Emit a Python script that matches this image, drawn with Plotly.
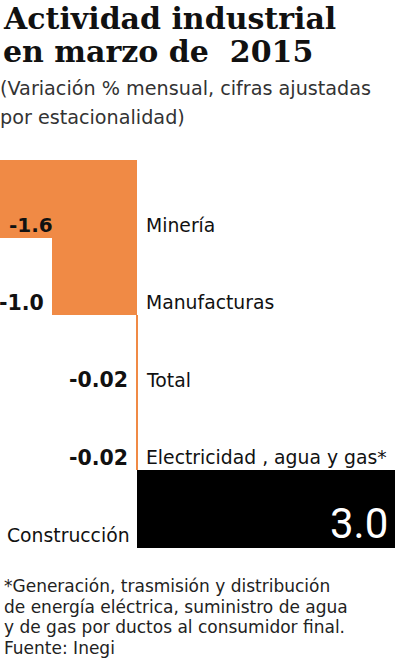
import plotly.graph_objects as go

categories = ["Minería", "Manufacturas", "Total", "Electricidad , agua y gas*", "Construcción"]
values = [-1.6, -1.0, -0.02, -0.02, 3.0]
value_labels = ["-1.6", "-1.0", "-0.02", "-0.02", "3.0"]

title_lines = ["Actividad industrial", "en marzo de  2015"]
subtitle_lines = ["(Variación % mensual, cifras ajustadas", "por estacionalidad)"]
footnote_lines = [
    "*Generación, trasmisión y distribución",
    "de energía eléctrica, suministro de agua",
    "y de gas por ductos al consumidor final.",
    "Fuente: Inegi",
]

ORANGE = "#F08A45"
BLACK = "#000000"
W, H = 395, 666
M_TOP, M_BOT = 160, 118
PLOT_H = H - M_TOP - M_BOT

def py(ypx):
    return (H - M_BOT - ypx) / PLOT_H

xmin, xmax = -1.6, 3.0
px_per_unit = W / (xmax - xmin)

idx = list(range(len(categories)))
colors = [ORANGE if v < 0 else BLACK for v in values]

fig = go.Figure()
fig.add_trace(go.Bar(
    x=values, y=idx, orientation="h", width=1,
    marker=dict(color=colors, line=dict(width=0)),
    hoverinfo="skip", showlegend=False,
))

SANS = "DejaVu Sans, sans-serif"
ann = []
for i, (cat, v, lab) in enumerate(zip(categories, values, value_labels)):
    ly = i + 0.34
    if v < 0:
        ann.append(dict(x=0, y=ly, xref="x", yref="y", text=cat, showarrow=False,
                        xanchor="left", yanchor="middle", xshift=7,
                        font=dict(family=SANS, size=18.8, color="#111")))
        bar_end_px = (v - xmin) * px_per_unit
        if bar_end_px < 45:
            ann.append(dict(x=v, y=ly, xref="x", yref="y", text="<b>%s</b>" % lab, showarrow=False,
                            xanchor="left", yanchor="middle", xshift=7,
                            font=dict(family=SANS, size=20, color="#111")))
        else:
            ann.append(dict(x=v, y=ly, xref="x", yref="y", text="<b>%s</b>" % lab, showarrow=False,
                            xanchor="right", yanchor="middle", xshift=-6,
                            font=dict(family=SANS, size=20.5, color="#111")))
    else:
        ann.append(dict(x=0, y=ly, xref="x", yref="y", text=cat, showarrow=False,
                        xanchor="right", yanchor="middle", xshift=-5,
                        font=dict(family=SANS, size=18.8, color="#111")))
        ann.append(dict(x=v, y=i + 0.185, xref="x", yref="y", text=lab, showarrow=False,
                        xanchor="right", yanchor="middle", xshift=-5,
                        font=dict(family="Roboto, sans-serif", size=42, color="#ffffff")))

for k, t in enumerate(title_lines):
    ann.append(dict(x=0, y=py(18 + 33 * k), xref="paper", yref="paper", text="<b>%s</b>" % t,
                    showarrow=False, xanchor="left", yanchor="middle", xshift=1,
                    font=dict(family="DejaVu Serif, serif", size=30, color="#111")))
for k, t in enumerate(subtitle_lines):
    ann.append(dict(x=0, y=py(88 + 30 * k), xref="paper", yref="paper", text=t,
                    showarrow=False, xanchor="left", yanchor="middle", xshift=-2,
                    font=dict(family=SANS, size=19.2, color="#333")))
for k, t in enumerate(footnote_lines):
    ann.append(dict(x=0, y=py(586 + 20.7 * k), xref="paper", yref="paper", text=t,
                    showarrow=False, xanchor="left", yanchor="middle", xshift=2,
                    font=dict(family=SANS, size=17, color="#222")))

fig.update_layout(
    width=W, height=H,
    margin=dict(l=0, r=0, t=M_TOP, b=M_BOT, pad=0),
    paper_bgcolor="white", plot_bgcolor="white",
    bargap=0,
    xaxis=dict(range=[xmin, xmax], visible=False, fixedrange=True),
    yaxis=dict(range=[len(categories) - 0.5, -0.5], visible=False, fixedrange=True),
    annotations=ann,
)
fig.write_html("out.html", config={"displayModeBar": False})
